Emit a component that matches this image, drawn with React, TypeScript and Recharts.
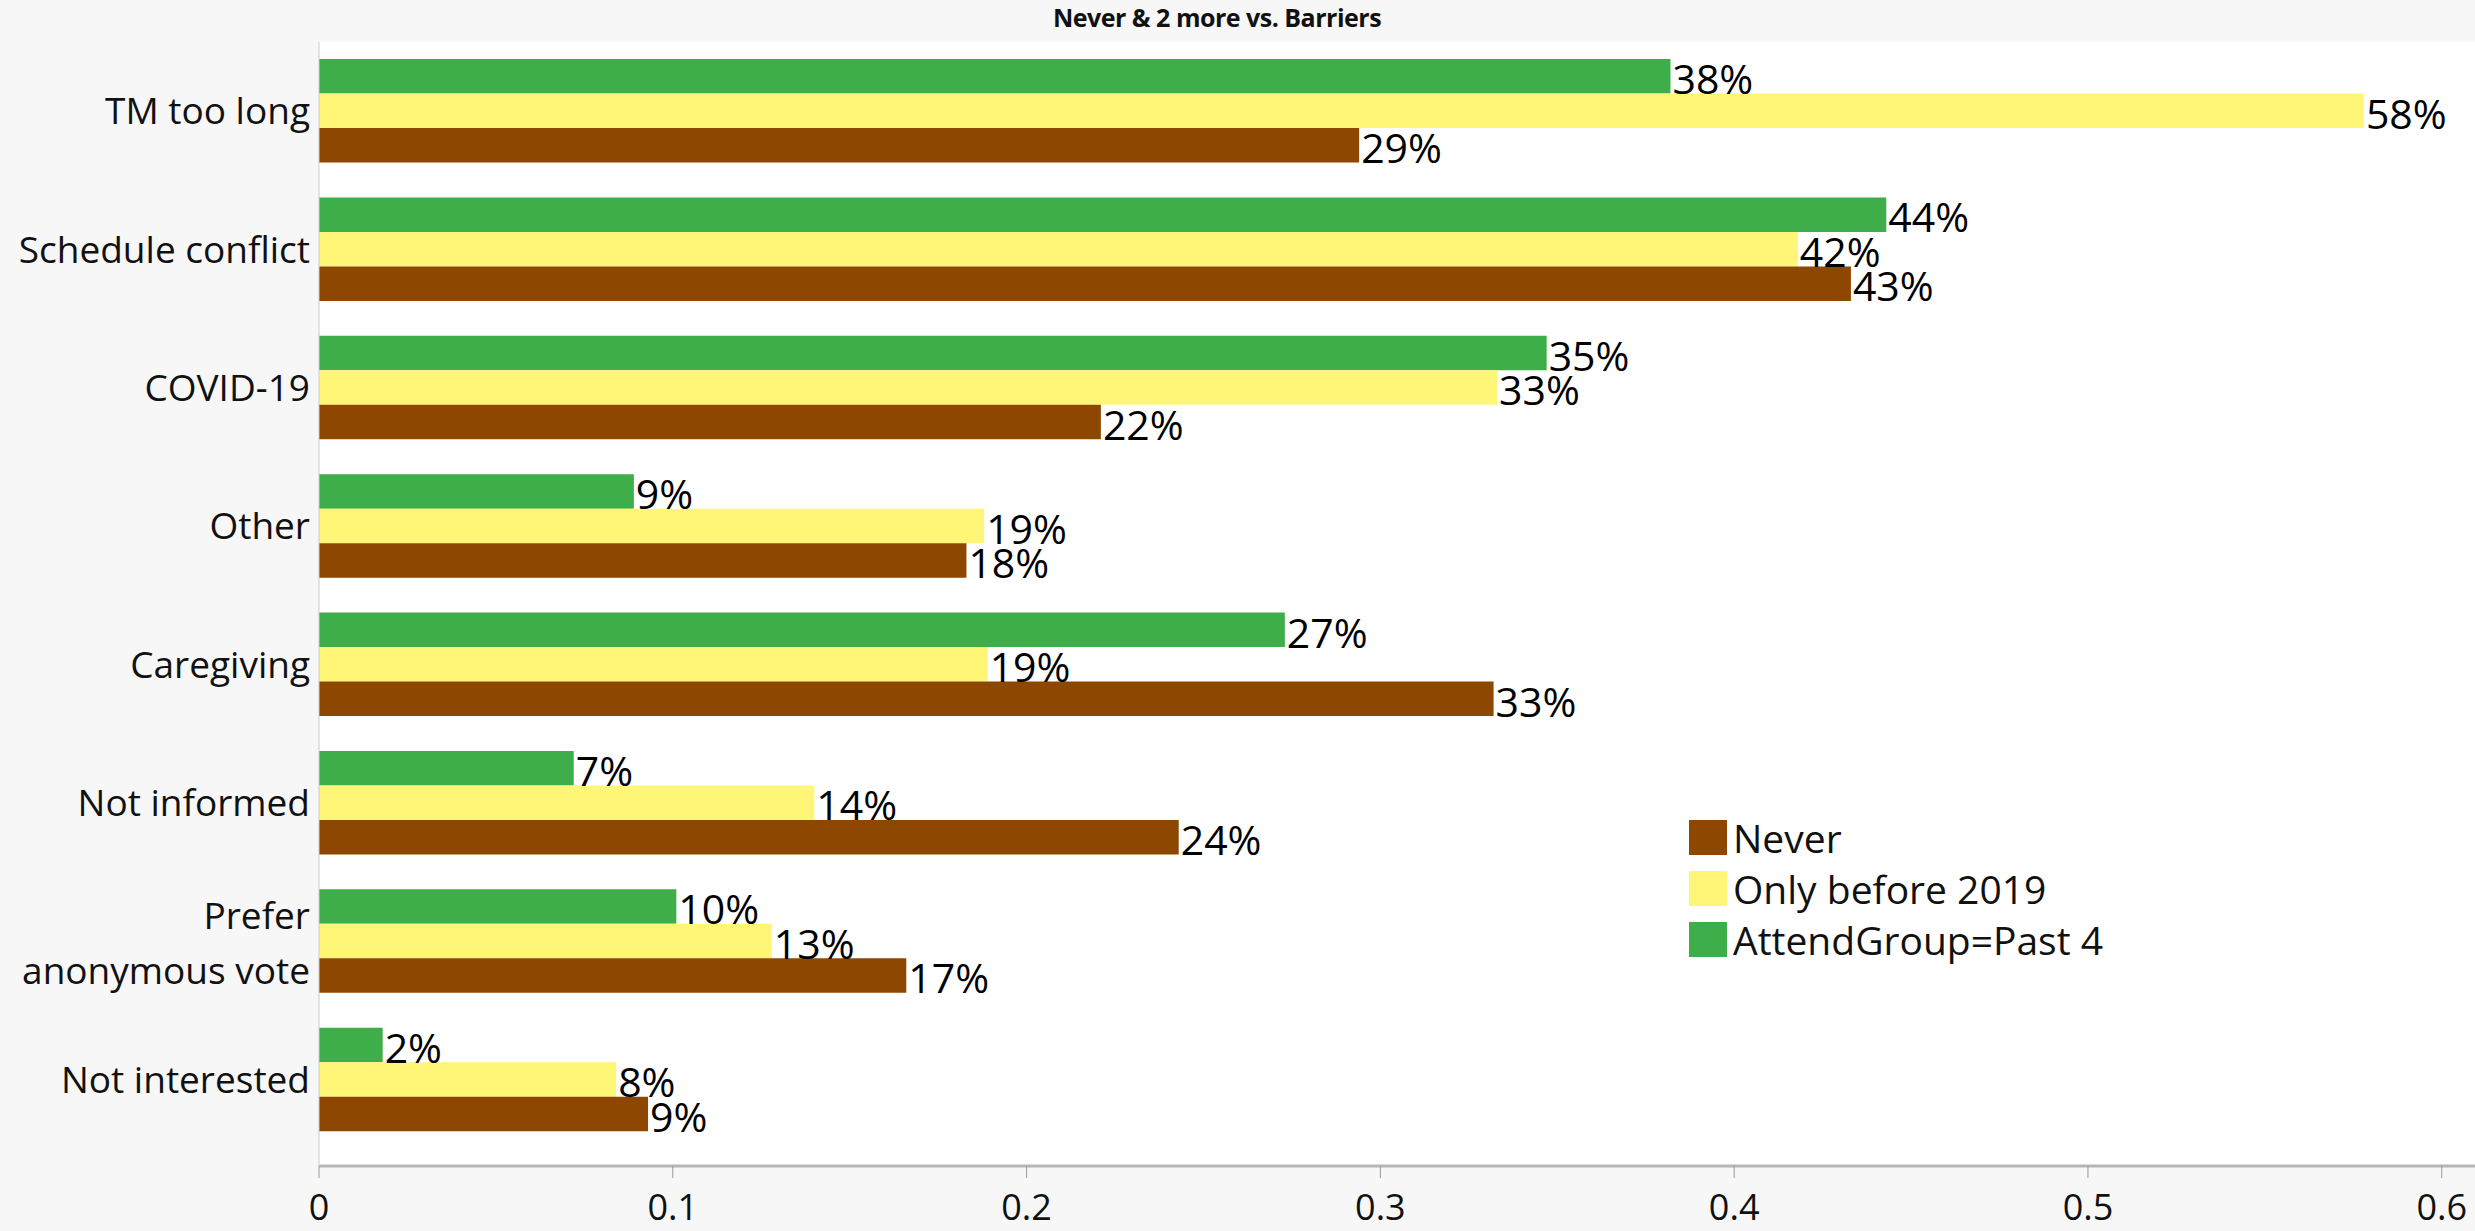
import React from "react";
import { BarChart, Bar, XAxis, YAxis, LabelList, CartesianGrid } from "recharts";

const categories = [
  "TM too long",
  "Schedule conflict",
  "COVID-19",
  "Other",
  "Caregiving",
  "Not informed",
  "Prefer anonymous vote",
  "Not interested",
];
const never = [0.294, 0.433, 0.221, 0.183, 0.332, 0.243, 0.166, 0.093];
const onlyBefore2019 = [0.578, 0.418, 0.333, 0.188, 0.189, 0.14, 0.128, 0.084];
const past4 = [0.382, 0.443, 0.347, 0.089, 0.273, 0.072, 0.101, 0.018];
const xTicks = [0, 0.1, 0.2, 0.3, 0.4, 0.5, 0.6];
const title = "Never & 2 more vs. Barriers";

const seriesNames = { never: "Never", only: "Only before 2019", past4: "AttendGroup=Past 4" };
const colors = { never: "#8E4700", only: "#FFF677", past4: "#3DAE49" };

const data = categories.map((name, i) => ({
  name,
  never: never[i],
  only: onlyBefore2019[i],
  past4: past4[i],
}));

if (typeof document !== "undefined") {
  document.body.style.margin = "0";
}

const FONT = "'Open Sans', 'Noto Sans', sans-serif";

const CategoryTick = (props: any) => {
  const { x, y, payload } = props;
  const name: string = payload.value;
  const lines = name === "Prefer anonymous vote" ? ["Prefer", "anonymous vote"] : [name];
  const lh = 55;
  const start = -((lines.length - 1) * lh) / 2 + (lines.length > 1 ? 2 : 0);
  return (
    <text x={x - 1} y={y} textAnchor="end" fontFamily={FONT} fontSize={37} fill="#111">
      {lines.map((l, i) => (
        <tspan key={i} x={x - 1} y={y + start + i * lh} dy="0.35em">
          {l}
        </tspan>
      ))}
    </text>
  );
};

const ValueLabel = (props: any) => {
  const { x, y, width, height, value } = props;
  return (
    <text
      x={x + width + 2}
      y={y + height / 2 + 3}
      dy="0.36em"
      fontFamily={FONT}
      fontSize={41}
      fill="#000"
      textAnchor="start"
    >
      {Math.round(value * 100) + "%"}
    </text>
  );
};

const legendItems = [
  { key: "never", label: seriesNames.never, color: colors.never },
  { key: "only", label: seriesNames.only, color: colors.only },
  { key: "past4", label: seriesNames.past4, color: colors.past4 },
];

export default function App() {
  return (
    <div style={{ width: 2475, height: 1231, background: "#F7F7F7", position: "relative" }}>
      <div
        style={{
          position: "absolute",
          left: 1217,
          top: 0,
          transform: "translateX(-50%)",
          fontFamily: FONT,
          fontWeight: 700,
          fontSize: 25,
          color: "#111",
          whiteSpace: "nowrap",
          letterSpacing: -0.5,
        }}
      >
        {title}
      </div>
      <BarChart
        width={2475}
        height={1231}
        data={data}
        layout="vertical"
        margin={{ top: 42, right: 0, bottom: 0, left: 0 }}
        barGap={0}
        barSize={34.5}
      >
        <CartesianGrid fill="#FFFFFF" stroke="none" horizontal={false} vertical={false} />
        <XAxis
          type="number"
          domain={[0, 0.6094]}
          ticks={xTicks}
          allowDataOverflow
          height={65}
          tickSize={12}
          tickMargin={16}
          tick={{ fontFamily: FONT, fontSize: 36, fill: "#111" }}
          tickFormatter={(v: number) => String(v)}
          axisLine={{ stroke: "#B5B5B5", strokeWidth: 3 }}
          tickLine={{ stroke: "#999" }}
        />
        <XAxis
          xAxisId="top"
          orientation="top"
          type="number"
          domain={[0, 0.6094]}
          height={0}
          tick={false}
          tickLine={false}
          axisLine={{ stroke: "#B0B0B0", strokeWidth: 3 }}
        />
        <YAxis
          type="category"
          dataKey="name"
          width={319}
          padding={{ top: 0, bottom: 17 }}
          tick={<CategoryTick />}
          tickLine={false}
          axisLine={{ stroke: "#CCCCCC", strokeWidth: 1 }}
        />
        <Bar dataKey="past4" name={seriesNames.past4} fill={colors.past4} isAnimationActive={false}>
          <LabelList dataKey="past4" content={<ValueLabel />} />
        </Bar>
        <Bar dataKey="only" name={seriesNames.only} fill={colors.only} isAnimationActive={false}>
          <LabelList dataKey="only" content={<ValueLabel />} />
        </Bar>
        <Bar dataKey="never" name={seriesNames.never} fill={colors.never} isAnimationActive={false}>
          <LabelList dataKey="never" content={<ValueLabel />} />
        </Bar>
      </BarChart>
      <div style={{ position: "absolute", left: 1689, top: 812, fontFamily: FONT }}>
        {legendItems.map((it) => (
          <div key={it.key} style={{ display: "flex", alignItems: "center", height: 51 }}>
            <div style={{ width: 38, height: 35, background: it.color, marginRight: 6 }} />
            <span style={{ fontSize: 39, color: "#111", lineHeight: "51px", whiteSpace: "nowrap" }}>
              {it.label}
            </span>
          </div>
        ))}
      </div>
    </div>
  );
}
